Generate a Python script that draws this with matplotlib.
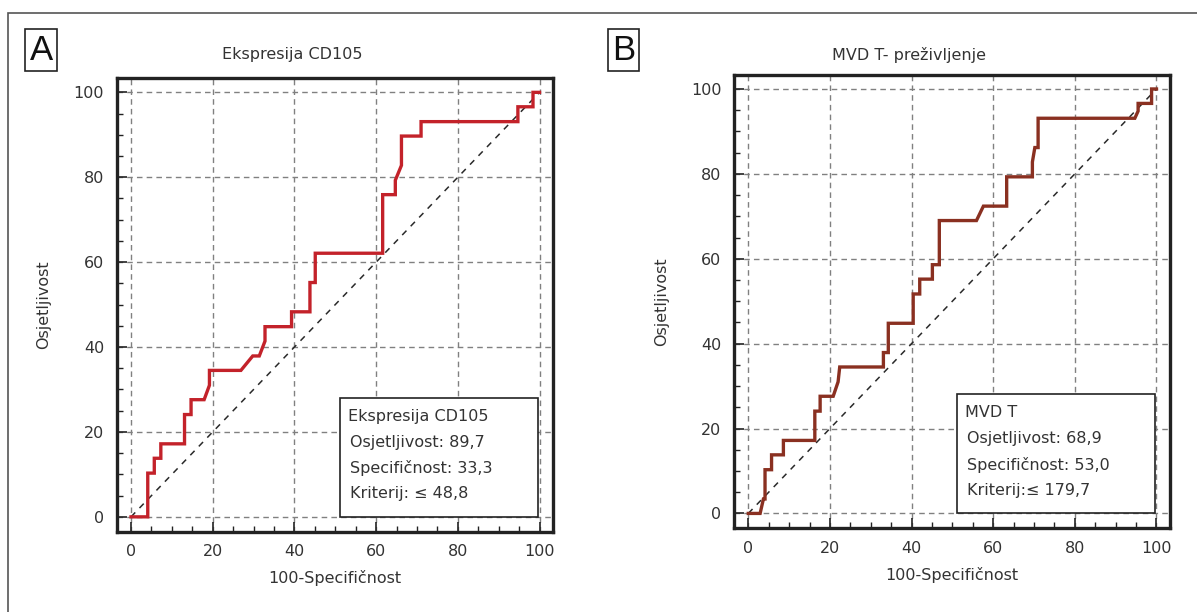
import matplotlib.pyplot as plt
from matplotlib.patches import Rectangle
from matplotlib.ticker import MultipleLocator

# ROC curve A: Ekspresija CD105 (100-specificity, sensitivity)
fpr_a = [0, 4.1, 4.1, 5.7, 5.7, 7.3, 7.3, 13.1, 13.1, 14.7, 14.7, 17.9, 19.2, 19.2,
         26.9, 29.8, 31.4, 32.8, 32.8, 39.3, 39.3, 43.8, 43.8, 45.1, 45.1, 61.6,
         61.6, 64.7, 64.7, 66.2, 66.2, 71.0, 71.0, 94.7, 94.7, 98.4, 98.4, 100]
sens_a = [0, 0, 10.3, 10.3, 13.8, 13.8, 17.2, 17.2, 24.1, 24.1, 27.6, 27.6, 31.0, 34.5,
          34.5, 37.9, 37.9, 41.4, 44.8, 44.8, 48.3, 48.3, 55.2, 55.2, 62.1, 62.1,
          75.9, 75.9, 79.3, 82.8, 89.7, 89.7, 93.1, 93.1, 96.6, 96.6, 100, 100]

# ROC curve B: MVD T - preživljenje
fpr_b = [0, 2.9, 3.7, 4.1, 4.1, 5.7, 5.7, 8.6, 8.6, 16.3, 16.3, 17.6, 17.6, 20.8, 22.0,
         22.4, 33.1, 33.1, 34.3, 34.3, 40.4, 40.4, 42.0, 42.0, 45.1, 45.1, 46.8, 46.8,
         55.9, 57.6, 63.3, 63.3, 69.6, 69.6, 70.2, 71.0, 71.0, 94.7, 95.5, 95.5,
         98.8, 98.8, 100]
sens_b = [0, 0, 3.4, 3.4, 10.3, 10.3, 13.8, 13.8, 17.2, 17.2, 24.1, 24.1, 27.6, 27.6,
          31.0, 34.5, 34.5, 37.9, 37.9, 44.8, 44.8, 51.7, 51.7, 55.2, 55.2, 58.6, 58.6,
          69.0, 69.0, 72.4, 72.4, 79.3, 79.3, 82.8, 86.2, 86.2, 93.1, 93.1, 94.8, 96.6,
          96.6, 100, 100]

titles = ["Ekspresija CD105", "MVD T- preživljenje"]
panel_labels = ["A", "B"]
box_lines = [
    ["Ekspresija CD105", "Osjetljivost: 89,7", "Specifičnost: 33,3", "Kriterij: ≤ 48,8"],
    ["MVD T", "Osjetljivost: 68,9", "Specifičnost: 53,0", "Kriterij:≤ 179,7"],
]
curve_colors = ["#c3222a", "#8a3021"]

plt.rcParams["font.family"] = ["DejaVu Sans"]
txt = "#333333"

fig = plt.figure(figsize=(11.97, 6.12), dpi=100)

# outer frame of the figure (cut off at right and bottom edges)
fig.patches.append(Rectangle((8 / 1197, -0.1), 1.1, 1.1 - 13 / 612, transform=fig.transFigure,
                             fill=False, ec="#555555", lw=1.2))

axes_pos = [[0.0975, 0.1312, 0.3645, 0.7408], [0.6132, 0.1368, 0.3642, 0.7407]]
curves = [(fpr_a, sens_a), (fpr_b, sens_b)]
title_x = [292 / 1197, 909 / 1197]
label_x = [41 / 1197, 623.5 / 1197]

for i in range(2):
    ax = fig.add_axes(axes_pos[i])
    x, y = curves[i]
    ax.set_xlim(-3.5, 103.3)
    ax.set_ylim(-3.5, 103.3)
    ax.xaxis.set_major_locator(MultipleLocator(20))
    ax.yaxis.set_major_locator(MultipleLocator(20))
    ax.xaxis.set_minor_locator(MultipleLocator(5))
    ax.yaxis.set_minor_locator(MultipleLocator(5))
    ax.grid(True, which="major", ls=(0, (4, 3)), color="#808080", lw=1.0)
    ax.set_axisbelow(True)
    ax.tick_params(which="major", direction="in", length=7, width=1.2, color="#222222",
                   labelsize=11.5, labelcolor=txt, pad=9)
    ax.tick_params(which="minor", direction="in", length=4, width=1.0, color="#222222")
    for s in ax.spines.values():
        s.set_linewidth(2.4)
        s.set_color("#222222")

    ax.plot([0, 100], [0, 100], ls=(0, (4, 4)), color="#2a2a2a", lw=1.1)
    ax.plot(x, y, color=curve_colors[i], lw=2.4, solid_joinstyle="miter")

    ax.set_xlabel("100-Specifičnost", fontsize=11.5, color=txt, labelpad=8)
    ax.set_ylabel("Osjetljivost", fontsize=11.5, color=txt, labelpad=16)

    # statistics box
    ax.add_patch(Rectangle((51.2, 0), 48.5, 28.1, fill=True, fc="white",
                           ec="#222222", lw=1.2, zorder=3))
    for j, line in enumerate(box_lines[i]):
        ax.text(53.0 if j == 0 else 53.6, 23.7 - j * 6.1, line, fontsize=11.5,
                color=txt, va="center", ha="left", zorder=4)

    fig.text(title_x[i], 1 - 55 / 612, titles[i], fontsize=11.5, color=txt,
             ha="center", va="center")
    fig.text(label_x[i], 1 - 50 / 612, panel_labels[i], fontsize=25, color="#111111",
             family="Liberation Sans", ha="center", va="center",
             bbox=dict(boxstyle="square,pad=0.12", fc="white", ec="#222222", lw=1.2))

fig.savefig("out.png", dpi=100)
